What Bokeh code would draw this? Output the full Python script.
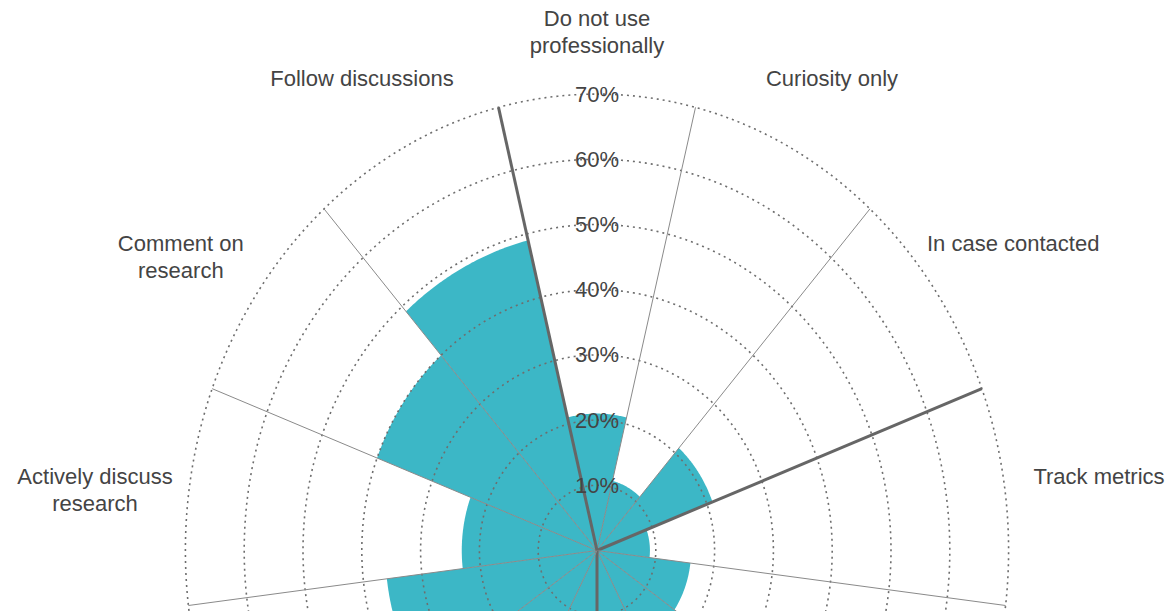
import numpy as np
from bokeh.plotting import figure
from bokeh.models import Range1d
from bokeh.core.properties import value
from bokeh.embed import file_html
from bokeh.resources import INLINE

# ---------------- data ----------------
# 13 categories clockwise from the top; labels of the ones hidden below the
# visible area of the reference are unknown and left empty.
categories = [
    "Do not use\nprofessionally",
    "Curiosity only",
    "In case contacted",
    "Track metrics",
    "", "", "", "", "", "",
    "Actively discuss\nresearch",
    "Comment on\nresearch",
    "Follow discussions",
]
values = [21, 11, 21, 9, 16, 20, 24, 27, 22, 36, 23, 40, 49]
group_ids = [0, 0, 0, 1, 1, 1, 1, 2, 2, 2, 2, 2, 2]
tick_values = [10, 20, 30, 40, 50, 60, 70]
tick_labels = ["10%", "20%", "30%", "40%", "50%", "60%", "70%"]
r_max = 70

# ---------------- styling ----------------
BAR = "#3cb7c6"
GRID = "#6e6e6e"
THIN = "#8a8a8a"
THICK = "#666666"
TXT = "#444444"
FONT = "Liberation Sans"

W, H = 1169, 611
CX, CY = 596.5, 550.0       # pixel position of the pole
SX, SY = 5.88, 6.52         # pixels per percent (horizontal, vertical)
LAB_RX, LAB_RY, LAB_DY = 86.0, 79.9, 1.7   # label placement (data units)
LINE_PX = 27                # spacing of label lines in pixels

n = len(categories)
step = 2 * np.pi / n

p = figure(width=W, height=H,
           x_range=Range1d(-CX / SX, (W - CX) / SX),
           y_range=Range1d(-(H - CY) / SY, CY / SY),
           output_backend="svg", toolbar_location=None,
           x_axis_type=None, y_axis_type=None, min_border=0,
           outline_line_color=None, background_fill_color="white",
           border_fill_color="white")

# sectors (bars)
xs, ys = [], []
for i, v in enumerate(values):
    a = np.linspace(i * step - step / 2, i * step + step / 2, 60)
    xs.append([0.0] + list(v * np.sin(a)) + [0.0])
    ys.append([0.0] + list(v * np.cos(a)) + [0.0])
p.patches(xs, ys, fill_color=BAR, line_color=None)

# gridline ellipses (circles in data space)
t = np.linspace(0, 2 * np.pi, 721)
p.multi_line([list(r * np.sin(t)) for r in tick_values],
             [list(r * np.cos(t)) for r in tick_values],
             line_color=GRID, line_width=1.6, line_dash="2 4")

# radial boundary lines
for k in range(n):
    b = (k + 0.5) * step
    thick = group_ids[k] != group_ids[(k + 1) % n]
    p.line([0, r_max * np.sin(b)], [0, r_max * np.cos(b)],
           line_color=THICK if thick else THIN,
           line_width=3 if thick else 1)

# radial tick labels
p.text(x=[0] * len(tick_values), y=tick_values, text=tick_labels,
       text_align="center", text_baseline="middle",
       text_font=value(FONT), text_font_size="22px", text_color=TXT)

# category labels (first line anchored, extra lines flow downward)
lx, ly, lt, loff = [], [], [], []
for i, c in enumerate(categories):
    if not c:
        continue
    a = i * step
    lx.append(LAB_RX * np.sin(a))
    ly.append(LAB_RY * np.cos(a) + LAB_DY)
    lt.append(c)
    loff.append((c.count("\n")) * LINE_PX / 2)
p.text(x=lx, y=ly, text=lt, y_offset=loff,
       text_align="center", text_baseline="middle",
       text_font=value(FONT), text_font_size="22px", text_color=TXT,
       text_line_height=1.07)

open("out.html", "w").write(file_html(p, INLINE))
